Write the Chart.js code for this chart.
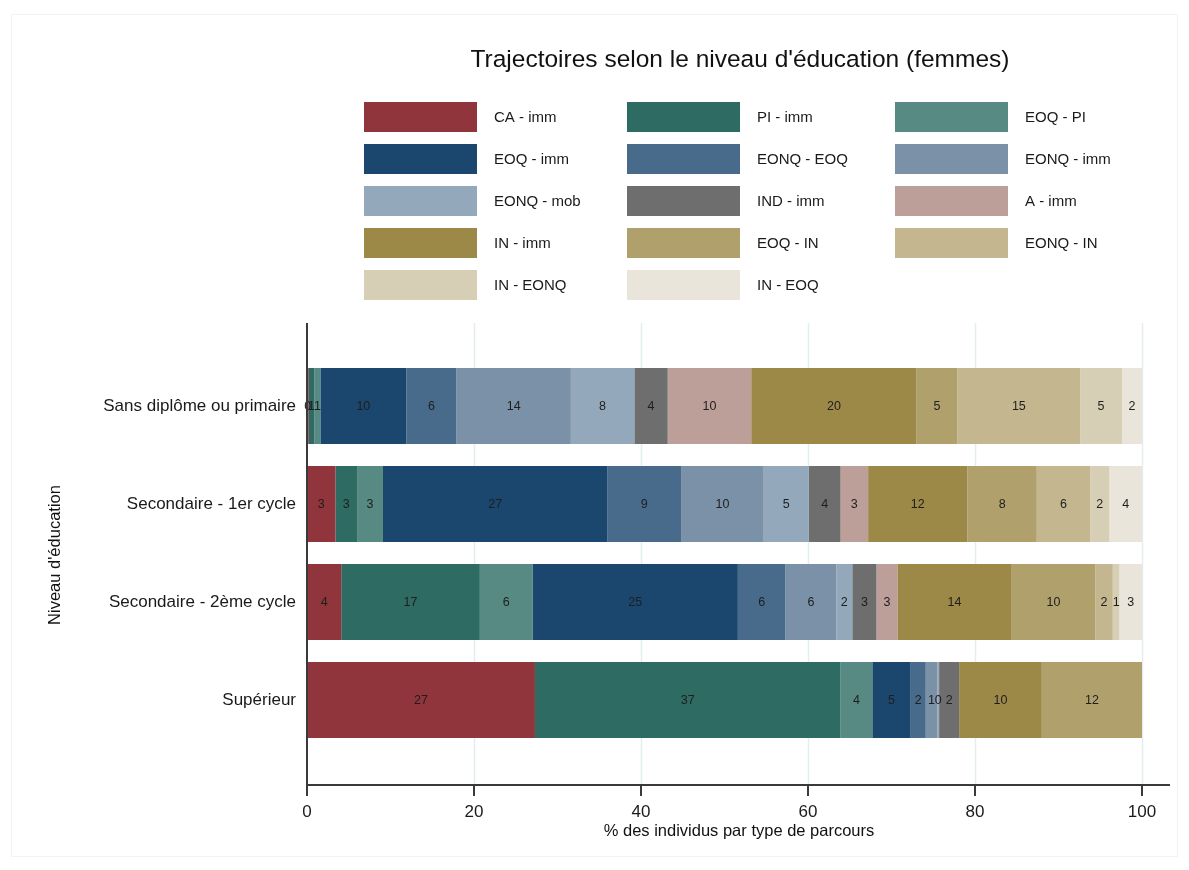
<!DOCTYPE html>
<html>
<head>
<meta charset="utf-8">
<script src="https://cdn.jsdelivr.net/npm/chart.js@4/dist/chart.umd.min.js"></script>
<style>
  html, body { margin: 0; padding: 0; background: #fff; }
  #wrap { width: 1189px; height: 870px; position: relative; }
</style>
</head>
<body>
<div id="wrap"><canvas id="trajChart" width="1189" height="870"></canvas></div>
<script>
// Niveaux d'éducation (axe des catégories)
const niveaux = ["Sans diplôme ou primaire", "Secondaire - 1er cycle", "Secondaire - 2ème cycle", "Supérieur"];

// Types de parcours (ordre de la légende / de l'empilement)
const parcours = ["CA - imm", "PI - imm", "EOQ - PI", "EOQ - imm", "EONQ - EOQ", "EONQ - imm", "EONQ - mob",
  "IND - imm", "A - imm", "IN - imm", "EOQ - IN", "EONQ - IN", "IN - EONQ", "IN - EOQ"];

// % des individus, un tableau par parcours (dans l'ordre des niveaux)
const caImm    = [0.2, 3.4, 4.1, 27.3];
const piImm    = [0.7, 2.6, 16.6, 36.6];
const eoqPi    = [0.7, 3.1, 6.3, 3.8];
const eoqImm   = [10.3, 26.9, 24.6, 4.6];
const eonqEoq  = [6.0, 8.8, 5.7, 1.8];
const eonqImm  = [13.7, 9.9, 6.1, 1.4];
const eonqMob  = [7.6, 5.4, 1.9, 0.2];
const indImm   = [4.0, 3.8, 2.9, 2.4];
const aImm     = [10.0, 3.3, 2.5, 0];
const inImm    = [19.8, 11.9, 13.7, 9.9];
const eoqIn    = [4.9, 8.3, 10.0, 12.0];
const eonqIn   = [14.7, 6.4, 2.1, 0];
const inEonq   = [5.0, 2.3, 0.8, 0];
const inEoq    = [2.4, 3.9, 2.7, 0];

const valeurs = [caImm, piImm, eoqPi, eoqImm, eonqEoq, eonqImm, eonqMob, indImm, aImm, inImm, eoqIn, eonqIn, inEonq, inEoq];

const xTicks = [0, 20, 40, 60, 80, 100];

const couleurs = ["#90353b", "#2e6b62", "#578a83", "#1b476f", "#486b8b", "#7b91a8", "#94a8bb",
  "#6e6e6e", "#bd9f99", "#9c8847", "#b0a06c", "#c4b78f", "#d7cfb5", "#e9e5da"];

const FONT = "'Liberation Sans', Arial, sans-serif";

// Décor façon Stata : grille, axes, titres, légende, étiquettes des segments
const decor = {
  id: "decor",
  beforeDatasetsDraw(chart) {
    const { ctx, chartArea, scales: { x } } = chart;
    ctx.save();
    ctx.strokeStyle = "#e4eeee";
    ctx.lineWidth = 1.5;
    xTicks.slice(1).forEach((v) => {
      const px = Math.round(x.getPixelForValue(v)) + 0.5;
      ctx.beginPath();
      ctx.moveTo(px, chartArea.top - 34);
      ctx.lineTo(px, chartArea.bottom + 36);
      ctx.stroke();
    });
    ctx.restore();
  },
  afterDatasetsDraw(chart) {
    const { ctx } = chart;
    ctx.save();
    ctx.font = "12.5px " + FONT;
    ctx.fillStyle = "#1e1e1e";
    ctx.textAlign = "center";
    ctx.textBaseline = "middle";
    chart.data.datasets.forEach((ds, i) => {
      chart.getDatasetMeta(i).data.forEach((bar, j) => {
        const v = ds.data[j];
        if (!v) return;
        ctx.fillText(String(Math.round(v)), (bar.x + bar.base) / 2, bar.y + 1);
      });
    });
    ctx.restore();
  },
  afterDraw(chart) {
    const { ctx, chartArea, scales: { x } } = chart;
    const top = chartArea.top - 34;
    const bottom = chartArea.bottom + 36;
    const left = x.getPixelForValue(0);
    ctx.save();

    // cadre très léger
    ctx.strokeStyle = "#f3f3f3";
    ctx.lineWidth = 1;
    ctx.strokeRect(11.5, 14.5, 1166, 842);

    // axes
    ctx.strokeStyle = "#3a3a3a";
    ctx.lineWidth = 2;
    ctx.beginPath();
    ctx.moveTo(left, top);
    ctx.lineTo(left, bottom);
    ctx.moveTo(left - 1, bottom);
    ctx.lineTo(chartArea.right + 28, bottom);
    xTicks.forEach((v) => {
      const px = x.getPixelForValue(v);
      ctx.moveTo(px, bottom);
      ctx.lineTo(px, bottom + 11);
    });
    ctx.stroke();

    // titre
    ctx.fillStyle = "#111";
    ctx.textAlign = "center";
    ctx.textBaseline = "middle";
    ctx.font = "24.5px " + FONT;
    ctx.fillText("Trajectoires selon le niveau d'éducation (femmes)", 740, 60);

    // titres d'axes
    ctx.font = "16.5px " + FONT;
    ctx.fillText("% des individus par type de parcours", 739, 831);
    ctx.save();
    ctx.translate(55, 555);
    ctx.rotate(-Math.PI / 2);
    ctx.fillText("Niveau d'éducation", 0, 0);
    ctx.restore();

    // légende sur 3 colonnes
    const colX = [364, 627, 895];
    ctx.font = "15px " + FONT;
    ctx.textAlign = "left";
    parcours.forEach((nom, i) => {
      const cx = colX[i % 3];
      const cy = 102 + 42 * Math.floor(i / 3);
      ctx.fillStyle = couleurs[i];
      ctx.fillRect(cx, cy, 113, 30);
      ctx.fillStyle = "#1a1a1a";
      ctx.fillText(nom, cx + 130, cy + 16);
    });
    ctx.restore();
  },
};

const ctx = document.getElementById("trajChart").getContext("2d");
new Chart(ctx, {
  type: "bar",
  data: {
    labels: niveaux,
    datasets: parcours.map((nom, i) => ({
      label: nom,
      data: valeurs[i],
      backgroundColor: couleurs[i],
      borderWidth: 0,
      categoryPercentage: 1,
      barPercentage: 0.776,
    })),
  },
  options: {
    indexAxis: "y",
    responsive: false,
    animation: false,
    layout: { padding: { top: 357, left: 10, right: 47, bottom: 25 } },
    plugins: {
      legend: { display: false },
      tooltip: { enabled: false },
      title: { display: false },
    },
    scales: {
      x: {
        stacked: true,
        min: 0,
        max: 100,
        grid: { display: false, drawTicks: true, tickLength: 50 },
        border: { display: false },
        ticks: {
          stepSize: 20,
          padding: 3,
          color: "#1a1a1a",
          font: { family: FONT, size: 17 },
        },
        afterFit(scale) { scale.height = 96; },
      },
      y: {
        stacked: true,
        grid: { display: false, drawTicks: false },
        border: { display: false },
        ticks: {
          padding: 11,
          color: "#1a1a1a",
          font: { family: FONT, size: 17 },
        },
        afterFit(scale) { scale.width = 297; },
      },
    },
  },
  plugins: [decor],
});
</script>
</body>
</html>
